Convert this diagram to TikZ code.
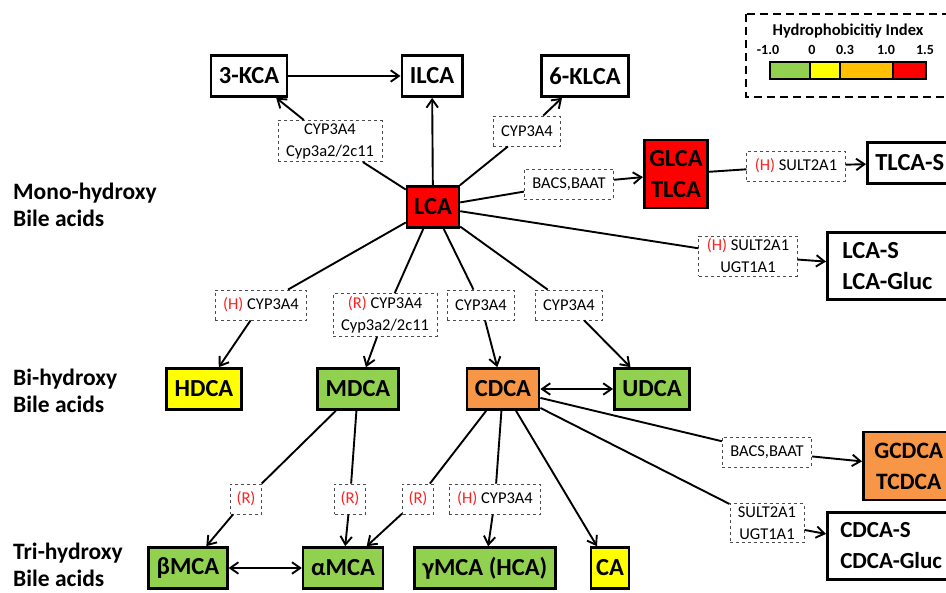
\documentclass[tikz,border=0pt]{standalone}
\usepackage{fontspec}
\setmainfont{Carlito}
\usetikzlibrary{arrows.meta}
\definecolor{hgreen}{HTML}{92D050}
\definecolor{hyellow}{HTML}{FFFF00}
\definecolor{horange}{HTML}{F79646}
\definecolor{hamber}{HTML}{FFC000}
\definecolor{hred}{HTML}{FF0000}
\definecolor{spred}{HTML}{FF2020}
\newcommand\spc[1]{{\color{spred}(#1)}}
\tikzset{
  acid/.style={draw,line width=2.6pt,font=\fontsize{24.5}{31}\selectfont\bfseries,minimum height=41pt,inner xsep=8pt,align=center},
  enz/.style={draw=black!70,dashed,line width=0.8pt,font=\fontsize{16.5}{22}\selectfont,minimum height=30pt,inner xsep=8pt,inner ysep=3pt,fill=white,align=center},
  lev/.style={font=\fontsize{23.5}{27}\selectfont\bfseries,align=left,anchor=west,inner sep=0pt},
  rx/.style={line width=1.9pt,>={Straight Barb[angle=70:10pt]}}
}
\begin{document}
\begin{tikzpicture}[x=1pt,y=-1pt]
\useasboundingbox (0,0) rectangle (946,593);
\clip (0,0) rectangle (946,593);

% levels
\node[lev] (mono) at (13,205) {Mono-hydroxy\\Bile acids};
\node[lev] (bi) at (13,391) {Bi-hydroxy\\Bile acids};
\node[lev] (tri) at (13,565) {Tri-hydroxy\\Bile acids};

% legend
\draw[line width=1.8pt,dash pattern=on 8pt off 5pt] (746,14) rectangle (960,97);
\node[font=\fontsize{16.5}{19}\selectfont\bfseries] (hyd) at (848,31) {Hydrophobicitiy Index};
\foreach \xa/\xb/\c in {770/810/hgreen,810/840/hyellow,840/893/hamber,893/926/hred}
  \draw[line width=1.3pt,fill=\c] (\xa,62) rectangle (\xb,79);
\foreach \x/\t in {768/-1.0,812/0,845/0.3,886/1.0,925/1.5}
  \node[font=\fontsize{14}{16}\selectfont\bfseries,inner sep=0pt] at (\x,50) {\t};

% acids
\node[acid] (KCA) at (249,76) {3-KCA};
\node[acid] (ILCA) at (432,76) {ILCA};
\node[acid] (KLCA) at (585,76) {6-KLCA};
\node[acid,fill=hred,inner xsep=7pt] (LCA) at (433,207) {LCA};
\node[acid,fill=hred,minimum height=68pt,inner xsep=5pt] (GLCA) at (676,174) {GLCA\\TLCA};
\node[acid,anchor=west] (TLCAS) at (866,163) {TLCA-S};
\node[acid,anchor=west,align=left,minimum height=67pt,inner xsep=15pt] (LCAS) at (826,266) {LCA-S\\LCA-Gluc};
\node[acid,fill=hyellow] (HDCA) at (204,389) {HDCA};
\node[acid,fill=hgreen] (MDCA) at (358,389) {MDCA};
\node[acid,fill=horange] (CDCA) at (503,389) {CDCA};
\node[acid,fill=hgreen] (UDCA) at (652,389) {UDCA};
\node[acid,fill=horange,anchor=west,minimum height=68pt,inner xsep=11pt,font=\fontsize{23.5}{31}\selectfont\bfseries] (GCDCA) at (862,466) {GCDCA\\TCDCA};
\node[acid,anchor=west,align=left,minimum height=67pt,inner xsep=13pt,font=\fontsize{23}{31}\selectfont\bfseries] (CDCAS) at (826,546) {CDCA-S\\CDCA-Gluc};
\node[acid,fill=hgreen] (bMCA) at (188,568) {βMCA};
\node[acid,fill=hgreen] (aMCA) at (343,568) {αMCA};
\node[acid,fill=hgreen] (gMCA) at (485,568) {γMCA (HCA)};
\node[acid,fill=hyellow,inner xsep=5pt] (CA) at (610,568) {CA};

% enzymes
\node[enz] (e1) at (330,141) {CYP3A4\\Cyp3a2/2c11};
\node[enz] (e2) at (527,131) {CYP3A4};
\node[enz] (e3) at (569,184) {BACS,BAAT};
\node[enz] (e4) at (796,166) {\spc{H} SULT2A1};
\node[enz] (e5) at (748,256) {\spc{H} SULT2A1\\UGT1A1};
\node[enz] (e6) at (261,305) {\spc{H} CYP3A4};
\node[enz] (e7) at (385,315) {\spc{R} CYP3A4\\Cyp3a2/2c11};
\node[enz] (e8) at (481,305) {CYP3A4};
\node[enz] (e9) at (569,305) {CYP3A4};
\node[enz] (e10) at (767,452) {BACS,BAAT};
\node[enz] (e11) at (767,523) {SULT2A1\\UGT1A1};
\node[enz,inner xsep=6pt] (e12) at (246,499) {\spc{R}};
\node[enz,inner xsep=6pt] (e13) at (350,499) {\spc{R}};
\node[enz,inner xsep=6pt] (e14) at (418,499) {\spc{R}};
\node[enz] (e15) at (495,499) {\spc{H} CYP3A4};

% reactions
\foreach \a/\e/\b in {LCA/e1/KCA,LCA/e2/KLCA,LCA/e3/GLCA,GLCA/e4/TLCAS,LCA/e5/LCAS,
  LCA/e6/HDCA,LCA/e7/MDCA,LCA/e8/CDCA,LCA/e9/UDCA,CDCA/e10/GCDCA,CDCA/e11/CDCAS,
  MDCA/e12/bMCA,MDCA/e13/aMCA,CDCA/e14/aMCA,CDCA/e15/gMCA}
{
  \draw[rx] (\a) -- (\e);
  \draw[rx,->] (\e) -- (\b);
}
\draw[rx,->] (KCA) -- (ILCA);
\draw[rx,->] (LCA) -- (ILCA);
\draw[rx,->] (CDCA) -- (CA);
\draw[rx,<->] (CDCA) -- (UDCA);
\draw[rx,<->] (bMCA) -- (aMCA);
\end{tikzpicture}
\end{document}
